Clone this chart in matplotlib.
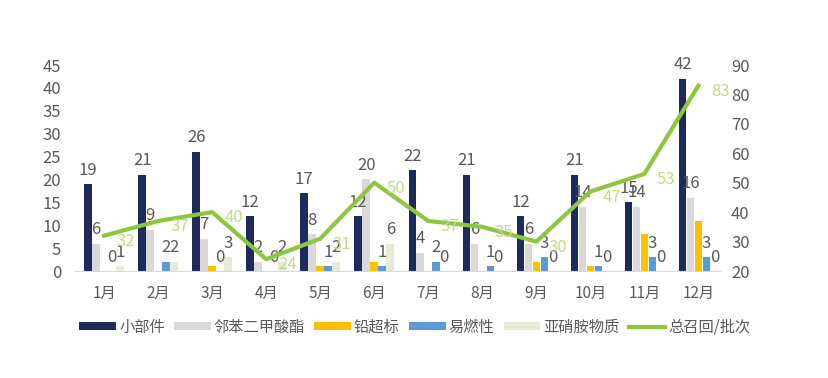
import matplotlib
matplotlib.use("Agg")
from matplotlib import pyplot as plt
import numpy as np

plt.rcParams['font.family'] = ['Noto Sans CJK SC', 'DejaVu Sans']

months = ["1月", "2月", "3月", "4月", "5月", "6月", "7月", "8月", "9月", "10月", "11月", "12月"]
xiaobujian = [19, 21, 26, 12, 17, 12, 22, 21, 12, 21, 15, 42]
linben = [6, 9, 7, 2, 8, 20, 4, 6, 6, 14, 14, 16]
qian = [0, 0, 1, 0, 1, 2, 0, 0, 2, 1, 8, 11]
yiran = [0, 2, 0, 0, 1, 1, 2, 1, 3, 1, 3, 3]
yaxiao = [1, 2, 3, 2, 2, 6, 0, 0, 0, 0, 0, 0]
total = [32, 37, 40, 24, 31, 50, 37, 35, 30, 47, 53, 83]

names = ["小部件", "邻苯二甲酸酯", "铅超标", "易燃性", "亚硝胺物质"]
colors = ["#1F2A5C", "#D9D9D9", "#FFC000", "#5B9BD5", "#E4ECD6"]
show_label = [True, True, False, True, True]
txt = "#595959"

fig = plt.figure(figsize=(8.29, 3.78), dpi=100)
ax = fig.add_axes([75/829, 1-271/378, 645/829, 206/378])
ax2 = ax.twinx()

x = np.arange(len(months))
w = 0.148
series = [xiaobujian, linben, qian, yiran, yaxiao]
for i, s in enumerate(series):
    pos = x + (i - 2) * w
    ax.bar(pos, s, w * 0.95, color=colors[i], label=names[i], zorder=2)
    if show_label[i]:
        for px, v in zip(pos, s):
            ax.text(px, v + 1.2, str(v), ha='center', va='bottom', fontsize=12,
                    color=txt, clip_on=False, zorder=4)

ax2.plot(x, total, color="#8DC63F", lw=3, label="总召回/批次", zorder=3)
for px, v in zip(x, total):
    ax2.annotate(str(v), (px, v), xytext=(9, -4), textcoords='offset points',
                 fontsize=12, color="#C5DA8C", ha='left', va='center')

ax.set_xlim(-0.54, 11.4)
ax.set_ylim(0, 45)
ax.set_yticks(range(0, 46, 5))
ax2.set_ylim(20, 90)
ax2.set_yticks(range(20, 91, 10))
ax.set_xticks(x)
ax.set_xticklabels(months)

for a in (ax, ax2):
    for sp in a.spines.values():
        sp.set_visible(False)
    a.tick_params(length=0, labelsize=12, colors=txt)
ax.spines['bottom'].set_visible(True)
ax.spines['bottom'].set_color("#D9D9D9")
ax.tick_params(axis='x', pad=10, labelsize=11)
ax.tick_params(axis='y', pad=10)
ax2.tick_params(axis='y', pad=8)

h1, l1 = ax.get_legend_handles_labels()
h2, l2 = ax2.get_legend_handles_labels()
fig.legend(h1 + h2, l1 + l2, loc='center', bbox_to_anchor=(415/829, 1-327/378),
           ncol=6, frameon=False, fontsize=11, labelcolor=txt,
           handlelength=2.4, handleheight=0.5, handletextpad=0.2, columnspacing=0.6)

fig.savefig("out.png", dpi=100)
